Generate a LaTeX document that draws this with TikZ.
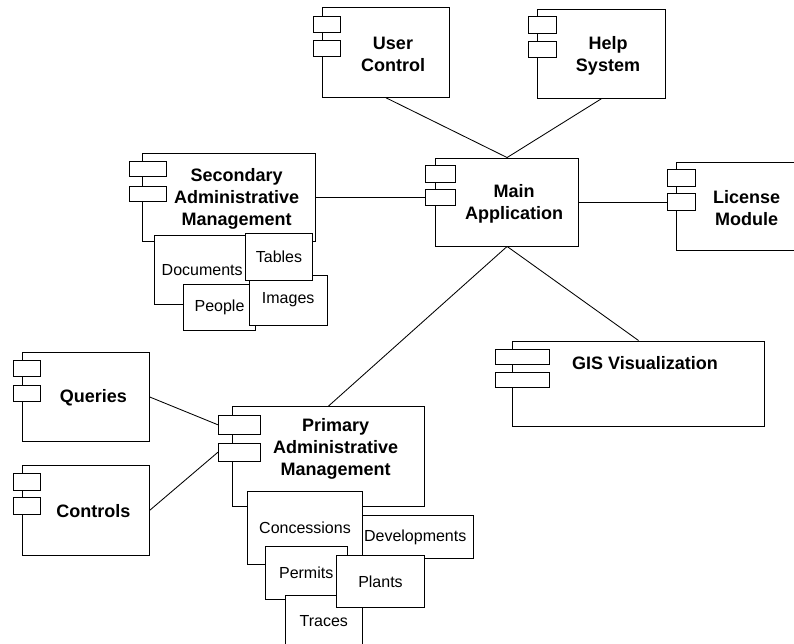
\documentclass[tikz,border=0pt]{standalone}
\usepackage{fontspec}
\setmainfont{Liberation Sans}

\begin{document}
\begin{tikzpicture}[x=1pt, y=-1pt,
  body/.style={draw, fill=white, line width=0.9pt, inner sep=0pt},
  tab/.style={draw, fill=white, line width=0.8pt, inner sep=0pt},
  part/.style={draw, fill=white, line width=0.8pt, inner sep=0pt, font=\fontsize{16}{19}\selectfont},
  title/.style={align=center, font=\fontsize{18}{22}\selectfont\bfseries},
  link/.style={line width=0.85pt}]
  \clip (0,0) rectangle (794,644);

  % top row
  \node[body, minimum width=126.6, minimum height=90.3] (user) at (386,52.2) {};
  \node[tab, minimum width=27.4, minimum height=16.3] (user-a) at (327,24.2) {};
  \node[tab, minimum width=27.4, minimum height=16.3] (user-b) at (327,48.3) {};
  \node[title] (user-t) at (393,54.5) {User\\Control};

  \node[body, minimum width=127.3, minimum height=89.3] (help) at (601.3,53.7) {};
  \node[tab, minimum width=27.3, minimum height=16.3] (help-a) at (542.3,25) {};
  \node[tab, minimum width=27.3, minimum height=16.3] (help-b) at (542.3,49.3) {};
  \node[title] (help-t) at (608,55.5) {Help\\System};

  % main application and license
  \node[body, minimum width=142.8, minimum height=88] (main) at (507.1,202) {};
  \node[tab, minimum width=30.7, minimum height=16.3] (main-a) at (440.3,174) {};
  \node[tab, minimum width=30.7, minimum height=16.3] (main-b) at (440.3,197.5) {};
  \node[title] (main-t) at (514,204) {Main\\Application};

  \node[body, minimum width=123.3, minimum height=88.2] (lic) at (738.3,206.6) {};
  \node[tab, minimum width=27.3, minimum height=16.3] (lic-a) at (681.3,178) {};
  \node[tab, minimum width=27.3, minimum height=16.3] (lic-b) at (681.3,202) {};
  \node[title] (lic-t) at (746.7,208) {License\\Module};

  % secondary management and its parts
  \node[body, minimum width=173.4, minimum height=87.7] (sec) at (229,197.5) {};
  \node[tab, minimum width=37.4, minimum height=15] (sec-a) at (148,169.2) {};
  \node[tab, minimum width=37.4, minimum height=15] (sec-b) at (148,193.5) {};
  \node[title] (sec-t) at (236.7,198.5) {Secondary\\Administrative\\Management};

  \node[part, minimum width=95.7, minimum height=68.3] (docs) at (202.2,269.9) {Documents};
  \node[part, minimum width=72.4, minimum height=46] (people) at (219.5,307) {People};
  \node[part, minimum width=78.3, minimum height=50] (images) at (288.2,300) {Images};
  \node[part, minimum width=66.6, minimum height=46.7] (tables) at (279,256.7) {Tables};

  % GIS
  \node[body, minimum width=251.6, minimum height=85.7] (gis) at (638.5,383.8) {};
  \node[tab, minimum width=54.3, minimum height=15] (gis-a) at (522.2,356.8) {};
  \node[tab, minimum width=54.3, minimum height=15] (gis-b) at (522.2,379.8) {};
  \node[title] (gis-t) at (645,362.7) {GIS Visualization};

  % queries and controls
  \node[body, minimum width=127, minimum height=89.4] (qry) at (85.8,397) {};
  \node[tab, minimum width=27.4, minimum height=16.2] (qry-a) at (27,368.7) {};
  \node[tab, minimum width=27.4, minimum height=16.2] (qry-b) at (27,393.2) {};
  \node[title] (qry-t) at (93.3,397.7) {Queries};

  \node[body, minimum width=127, minimum height=89.3] (ctrl) at (85.8,510.3) {};
  \node[tab, minimum width=27.4, minimum height=16.5] (ctrl-a) at (27,481.7) {};
  \node[tab, minimum width=27.4, minimum height=16.5] (ctrl-b) at (27,506) {};
  \node[title] (ctrl-t) at (93.3,510.7) {Controls};

  % primary management and its parts
  \node[body, minimum width=192, minimum height=100] (prim) at (328.3,456.7) {};
  \node[tab, minimum width=41.7, minimum height=18.3] (prim-a) at (239.2,424.8) {};
  \node[tab, minimum width=41.7, minimum height=18.3] (prim-b) at (239.2,452.2) {};
  \node[title] (prim-t) at (335.7,448.5) {Primary\\Administrative\\Management};

  \node[part, minimum width=116.3, minimum height=42.6] (devel) at (415.2,537) {Developments};
  \node[part, minimum width=114.6, minimum height=72.3] (conc) at (305,527.8) {Concessions};
  \node[part, minimum width=82.3, minimum height=52.6] (permits) at (306.2,573) {Permits};
  \node[part, minimum width=77.7, minimum height=50] (traces) at (323.8,620.7) {Traces};
  \node[part, minimum width=87.6, minimum height=52.7] (plants) at (380.5,581.3) {Plants};

  % links
  \draw[link] (user.south) -- (main.north);
  \draw[link] (help.south) -- (main.north);
  \draw[link] (sec.east) -- (main-b.west);
  \draw[link] (main.east) -- (lic-b.west);
  \draw[link] (main.south) -- (gis.north);
  \draw[link] (main.south) -- (prim.north);
  \draw[link] (qry.east) -- (prim-a.west);
  \draw[link] (ctrl.east) -- (prim-b.west);
\end{tikzpicture}
\end{document}
